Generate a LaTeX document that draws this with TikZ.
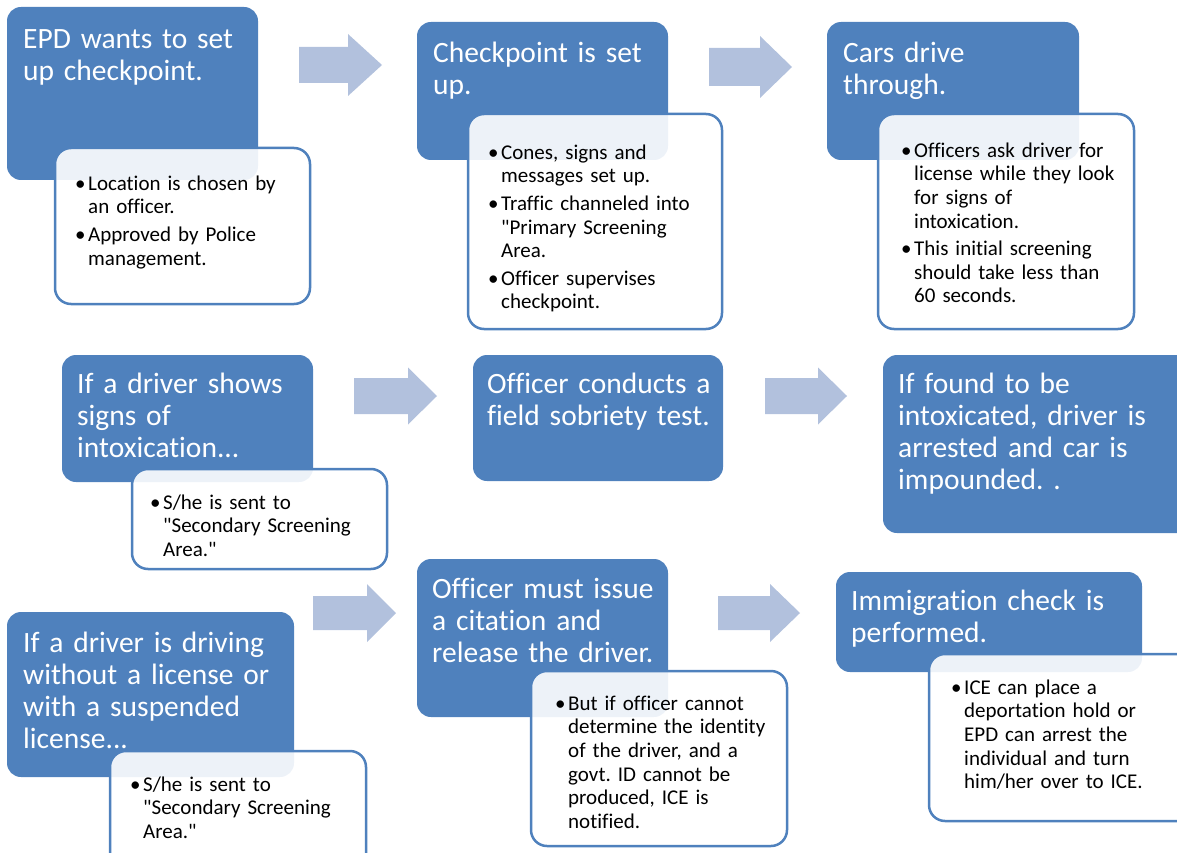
\documentclass[tikz,border=0pt]{standalone}
\usepackage{fontspec}
\setmainfont{Carlito}[Ligatures={NoCommon,NoContextual}]
\usetikzlibrary{positioning}
\definecolor{stepblue}{HTML}{4F81BD}
\definecolor{arrowblue}{HTML}{B2C1DD}
\frenchspacing
\newcommand{\bitem}[1]{\par\noindent\hangindent=13pt\hangafter=1%
  \makebox[13pt][l]{\strut\textbullet}#1\par\vspace{4pt}}

\begin{document}
\begin{tikzpicture}[x=1pt, y=-1pt,
    every node/.style={inner sep=0pt, anchor=north west, align=left},
    stepbox/.style={fill=stepblue, rounded corners=14pt},
    notebox/.style={draw=stepblue, line width=2.5pt, fill=white,
                    fill opacity=0.9, rounded corners=16pt},
    steptext/.style={text=white, text width=320pt,
                     font=\fontsize{29.5}{32}\selectfont},
    notetext/.style={text=black, text width=270pt,
                     font=\fontsize{21}{23.6}\selectfont},
    blockarrow/.style={fill=arrowblue},
]
\useasboundingbox (0,0) rectangle (1177,853);
\clip (0,0) rectangle (1177,853);

% --- Block arrows between the steps ---
\foreach \xa/\xb/\xt/\cy/\bh/\hh in {299/348/382/65/18/31, 709/760/792/67/19/31,
    354/408/437/396/18/28.5, 765/818/847/396/18/28.5,
    313/367/396/613/17/29, 718/770/800/613/17/29}
  \fill[blockarrow] (\xa,\cy-\bh) -- (\xb,\cy-\bh) -- (\xb,\cy-\hh) -- (\xt,\cy)
    -- (\xb,\cy+\hh) -- (\xb,\cy+\bh) -- (\xa,\cy+\bh) -- cycle;

% --- Row 1: setting up the checkpoint ---
\fill[stepbox] (7,7) rectangle (258,180);
\fill[stepbox] (417,22) rectangle (668,160);
\fill[stepbox] (827,22) rectangle (1079,160);
\filldraw[notebox] (55,148) rectangle (310,304);
\filldraw[notebox] (468,114) rectangle (722,329);
\filldraw[notebox] (878,114) rectangle (1134,329);

\node[steptext] (wants) at (23,25.6) {\strut EPD wants to set\\up checkpoint.};
\node[steptext] (setup) at (433,39.6) {\strut Checkpoint is set\\up.};
\node[steptext] (drive) at (843,39.6) {\strut Cars drive\\through.};

\node[notetext] (wantsnote) at (75,166.5)
  {\bitem{Location is chosen by\newline an officer.}
   \bitem{Approved by Police\newline management.}};
\node[notetext] (setupnote) at (488,135.5)
  {\bitem{Cones, signs and\newline messages set up.}
   \bitem{Traffic channeled into\newline \textquotedbl Primary Screening\newline Area.}
   \bitem{Officer supervises\newline checkpoint.}};
\node[notetext] (drivenote) at (901,133.5)
  {\bitem{Officers ask driver for\newline license while they look\newline for signs of\newline intoxication.}
   \bitem{This initial screening\newline should take less than\newline 60 seconds.}};

% --- Row 2: signs of intoxication ---
\fill[stepbox] (62,355) rectangle (313,482);
\fill[stepbox] (473,355) rectangle (723,481);
\fill[stepbox] (883,355) rectangle (1200,533);
\filldraw[notebox] (132,469) rectangle (387,569);

\node[steptext] (signs) at (77,370.6) {\strut If a driver shows\\signs of\\intoxication...};
\node[steptext] (sobriety) at (487,370.6) {\strut Officer conducts a\\field sobriety test.};
\node[steptext] (arrest) at (898,370.6)
  {\strut If found to be\\intoxicated, driver is\\arrested and car is\\impounded. .};

\node[notetext] (signsnote) at (150,485.5)
  {\bitem{S/he is sent to\newline \textquotedbl Secondary Screening\newline Area.\textquotedbl}};

% --- Row 3: no license ---
\fill[stepbox] (7,612) rectangle (294,777);
\fill[stepbox] (417,559) rectangle (668,717);
\fill[stepbox] (836,572) rectangle (1142,672);
\filldraw[notebox] (110,751) rectangle (366,880);
\filldraw[notebox] (531,671) rectangle (787,846);
\filldraw[notebox] (929,654) rectangle (1200,821);

\node[steptext] (license) at (23,629.6)
  {\strut If a driver is driving\\without a license or\\with a suspended\\license...};
\node[steptext] (citation) at (432,575.6)
  {\strut Officer must issue\\a citation and\\release the driver.};
\node[steptext] (immigration) at (851,587.6) {\strut Immigration check is\\performed.};

\node[notetext] (licensenote) at (130,767.5)
  {\bitem{S/he is sent to\newline \textquotedbl Secondary Screening\newline Area.\textquotedbl}};
\node[notetext] (citationnote) at (555,686.5)
  {\bitem{But if officer cannot\newline determine the identity\newline of the driver, and a\newline govt. ID cannot be\newline produced, ICE is\newline notified.}};
\node[notetext] (immigrationnote) at (951,670.5)
  {\bitem{ICE can place a\newline deportation hold or\newline EPD can arrest the\newline individual and turn\newline him/her over to ICE.}};

\end{tikzpicture}
\end{document}
